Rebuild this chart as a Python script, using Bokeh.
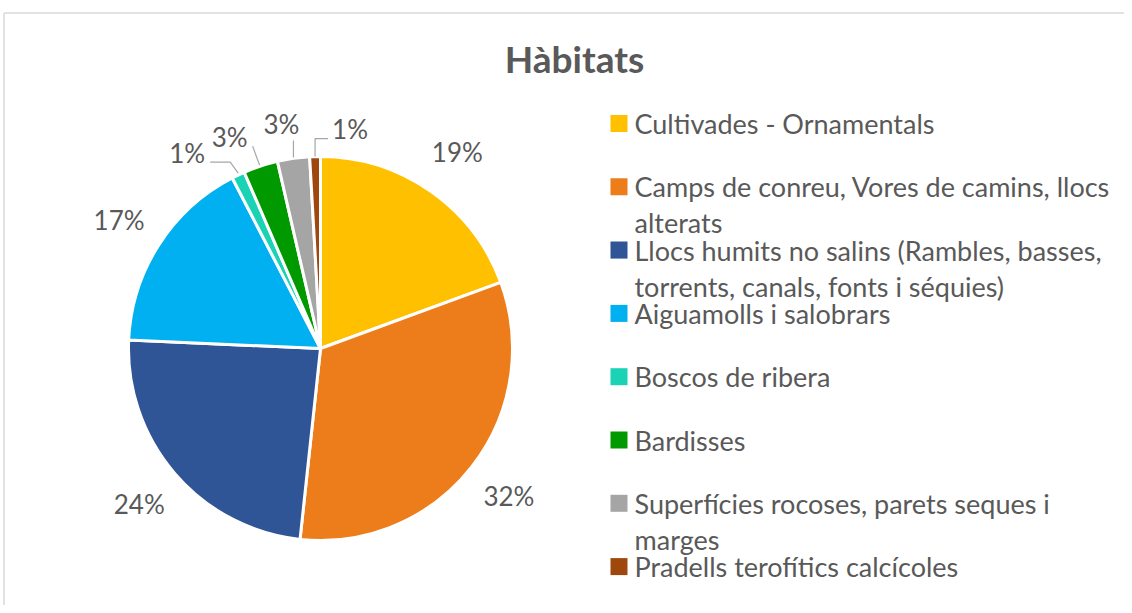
import math
from bokeh.plotting import figure
from bokeh.models import Range1d, ColumnDataSource
from bokeh.core.properties import value
from bokeh.embed import file_html
from bokeh.resources import INLINE

# ---- data ----
title = "Hàbitats"
categories = [
    "Cultivades - Ornamentals",
    "Camps de conreu, Vores de camins, llocs\nalterats",
    "Llocs humits no salins (Rambles, basses,\ntorrents, canals, fonts i séquies)",
    "Aiguamolls i salobrars",
    "Boscos de ribera",
    "Bardisses",
    "Superfícies rocoses, parets seques i\nmarges",
    "Pradells terofítics calcícoles",
]
shares = [19.4, 32.3, 24.0, 16.7, 1.1, 2.9, 2.7, 0.9]
colors = ["#FFC000", "#ED7D1A", "#2F5597", "#00B0F0", "#1AD3B4", "#009A00", "#A5A5A5", "#9E480E"]

# ---- layout (pixel coordinates of the 1132x613 page) ----
W, H = 1132, 613
FONT = "Lato"
TXT = "#595959"
cx_px, cy_px, R = 320, 348, 192


def Y(py):
    return H - py


p = figure(width=W - 8, height=H - 8, output_backend="svg", toolbar_location=None,
           x_range=Range1d(0, W - 8), y_range=Range1d(8, H),
           x_axis_location=None, y_axis_location=None, min_border=0)
p.grid.visible = False
p.outline_line_color = None
p.background_fill_color = "white"
p.border_fill_color = "white"

# chart border
p.segment(x0=[3.5, 3.5], y0=[Y(12.5), Y(12.5)], x1=[W, 3.5], y1=[Y(12.5), 0],
          line_color="#D9D9D9", line_width=1.5)

# pie
total = sum(shares)
starts, ends, mids = [], [], []
cum = 0.0
for v in shares:
    a0 = math.pi / 2 - 2 * math.pi * cum / total
    cum += v
    a1 = math.pi / 2 - 2 * math.pi * cum / total
    starts.append(a0)
    ends.append(a1)
    mids.append((a0 + a1) / 2)

src = ColumnDataSource(dict(start=starts, end=ends, color=colors))
p.wedge(x=cx_px, y=Y(cy_px), radius=R, start_angle="start", end_angle="end",
        direction="clock", fill_color="color", line_color="white", line_width=3,
        source=src)

# percentage labels
labels = [f"{round(v / total * 100)}%" for v in shares]
lab_x, lab_y = [], []
small_offsets = {4: (-51, -22), 5: (-31, -29), 6: (-12, -34), 7: (35, -28)}
leader_x, leader_y = [], []
for i, m in enumerate(mids):
    ex = cx_px + R * math.cos(m)
    ey = cy_px - R * math.sin(m)
    if i in small_offsets:
        dx, dy = small_offsets[i]
        tx, ty = ex + dx, ey + dy
        lab_x.append(tx)
        lab_y.append(Y(ty))
        if i == 4:
            pts = [(tx + 23, ty + 9), (tx + 43, ty + 9), (ex, ey - 2)]
        elif i == 5:
            pts = [(tx + 23, ty + 9), (ex - 1, ey - 1)]
        elif i == 6:
            pts = [(ex, ey - 18), (ex, ey - 1)]
        else:
            pts = [(tx - 22, ty + 10), (ex, ty + 10), (ex, ey)]
        leader_x.append([q[0] for q in pts])
        leader_y.append([Y(q[1]) for q in pts])
    else:
        lr = R * 1.245
        lab_x.append(cx_px + lr * math.cos(m))
        lab_y.append(Y(cy_px - lr * math.sin(m)))

p.multi_line(xs=leader_x, ys=leader_y, line_color="#A6A6A6", line_width=1.2)
p.text(x=lab_x, y=lab_y, text=labels, text_align="center", text_baseline="middle",
       text_font=value(FONT), text_font_size="26px", text_color=TXT)

# title
p.text(x=[574], y=[Y(58)], text=[title], text_align="center", text_baseline="middle",
       text_font=value(FONT), text_font_size="37px", text_font_style="bold", text_color=TXT)

# legend
leg_x0, leg_y0, step, line_h = 618.5, 123, 63.3, 36
sq_x, sq_y, tx_list, ty_list, tt = [], [], [], [], []
for i, c in enumerate(categories):
    ly = leg_y0 + step * i
    sq_x.append(leg_x0)
    sq_y.append(Y(ly))
    for k, part in enumerate(c.split("\n")):
        tx_list.append(634)
        ty_list.append(Y(ly + k * line_h))
        tt.append(part)
p.rect(x=sq_x, y=sq_y, width=17, height=17, fill_color=colors, line_color=None)
p.text(x=tx_list, y=ty_list, text=tt, text_align="left", text_baseline="middle",
       text_font=value(FONT), text_font_size="27px", text_color=TXT)

open("out.html", "w").write(file_html(p, INLINE))
